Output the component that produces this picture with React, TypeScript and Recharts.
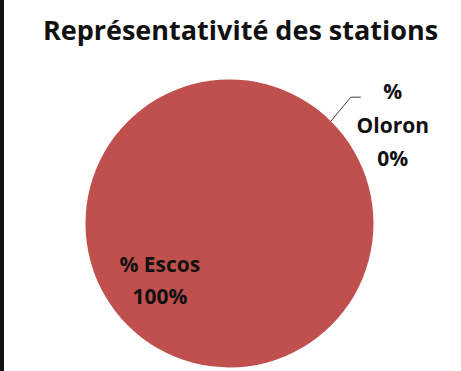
import { PieChart, Pie, Cell } from 'recharts';

const stations = ['% Oloron', '% Escos'];
const shares = [0, 100];
const colors = ['#C0504D', '#C0504D'];

const data = stations.map((name, i) => ({ name, value: shares[i] }));

const RAD = Math.PI / 180;
const font = '"Open Sans", Lato, sans-serif';

const renderLabel = (props: any) => {
  const { cx, cy, midAngle, outerRadius, index, percent } = props;
  const pct = `${Math.round(percent * 100)}%`;
  if (index === 0) {
    // outside label with leader line
    const sx = cx + outerRadius * Math.cos(-midAngle * RAD);
    const sy = cy + outerRadius * Math.sin(-midAngle * RAD);
    const ex = sx + 20;
    const ey = sy - 24;
    const tx = ex + 42;
    return (
      <g>
        <polyline points={`${sx},${sy} ${ex},${ey} ${ex + 10},${ey}`} fill="none" stroke="#404040" strokeWidth={1} />
        <text x={tx} textAnchor="middle" fill="#111" fontFamily={font} fontWeight="bold" fontSize={21}>
          <tspan x={tx} y={ey + 2}>%</tspan>
          <tspan x={tx} y={ey + 36}>Oloron</tspan>
          <tspan x={tx} y={ey + 69}>{pct}</tspan>
        </text>
      </g>
    );
  }
  const r = outerRadius * 0.6;
  const x = cx + r * Math.cos(-midAngle * RAD);
  const y = cy + r * Math.sin(-midAngle * RAD);
  return (
    <text x={x} textAnchor="middle" fill="#111" fontFamily={font} fontWeight="bold" fontSize={21}>
      <tspan x={x - 8} y={y - 12}>{stations[index]}</tspan>
      <tspan x={x - 8} y={y + 20}>{pct}</tspan>
    </text>
  );
};

export default function App() {
  return (
    <div style={{ position: 'absolute', left: 0, top: 0, width: 461, height: 371, background: '#fff', overflow: 'hidden' }}>
      <div style={{ position: 'absolute', left: 0, top: 0, width: 4, height: 371, background: '#111' }} />
      <div
        style={{
          position: 'absolute',
          left: 0,
          top: 12,
          width: 481,
          textAlign: 'center',
          fontFamily: font,
          fontWeight: 'bold',
          fontSize: 27,
          lineHeight: '36px',
          color: '#111',
        }}
      >
        Représentativité des stations
      </div>
      <PieChart width={461} height={371}>
        <Pie
          data={data}
          dataKey="value"
          cx={224}
          cy={218}
          outerRadius={144}
          startAngle={45}
          endAngle={-315}
          stroke="none"
          labelLine={false}
          label={renderLabel}
          isAnimationActive={false}
        >
          {data.map((d, i) => (
            <Cell key={d.name} fill={colors[i]} />
          ))}
        </Pie>
      </PieChart>
    </div>
  );
}
